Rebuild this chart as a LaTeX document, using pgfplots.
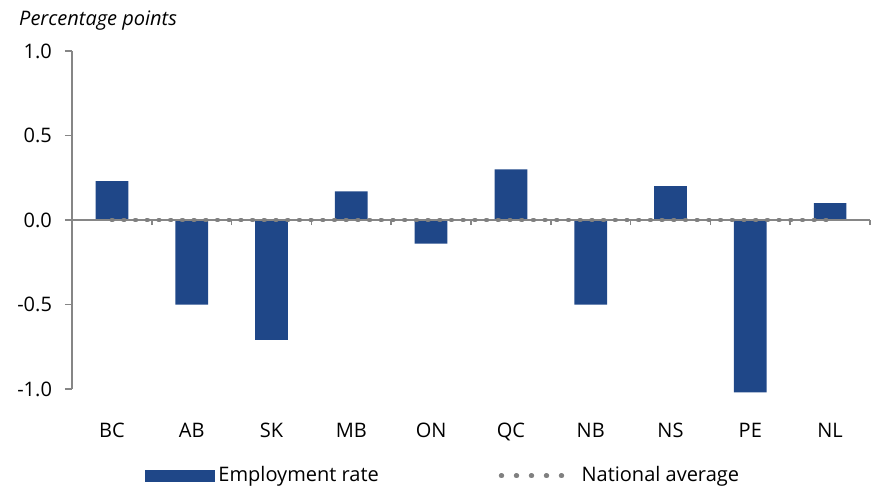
\documentclass[border=0pt]{standalone}
\usepackage{pgfplots}
\pgfplotsset{compat=1.18}
\usepackage{fontspec}
\setmainfont{Open Sans}
\definecolor{barblue}{RGB}{31,71,136}
\definecolor{axgray}{RGB}{134,134,134}
\definecolor{dotgray}{RGB}{128,128,128}

\begin{document}
\begin{tikzpicture}
\useasboundingbox (-36pt,-52pt) rectangle (400pt,194.5pt);
\pgfplotsset{
  base/.style={
    scale only axis, width=399pt, height=169pt,
    xmin=-0.5, xmax=9.5, ymin=-1, ymax=1,
    at={(0,0)}, anchor=south west, clip=false,
    font=\fontsize{10}{12}\selectfont,
  }
}
\begin{axis}[base,
  axis y line*=left, axis x line*=bottom,
  x axis line style={draw=none},
  y axis line style={axgray, line width=0.75pt},
  ytick={-1,-0.5,0,0.5,1},
  yticklabels={-1.0,-0.5,0.0,0.5,1.0},
  yticklabel style={xshift=-3pt},
  ytick style={axgray, line width=0.75pt},
  tick align=outside, major tick length=3.5pt,
  xtick={0,...,9},
  xticklabels={BC,AB,SK,MB,ON,QC,NB,NS,PE,NL},
  xtick style={draw=none},
  xticklabel style={yshift=-10pt},
  title={\itshape Percentage points},
  title style={at={(-0.075,1.055)}, anchor=west},
]
% employment rate, difference from national
\addplot[ybar, bar width=0.41, bar shift=0, fill=barblue, draw=none] coordinates {
  (0,0.23) (1,-0.50) (2,-0.71) (3,0.17) (4,-0.14)
  (5,0.30) (6,-0.50) (7,0.20) (8,-1.02) (9,0.10)
};
\end{axis}

\begin{axis}[base,
  axis x line*=middle, axis y line=none, ytick=\empty,
  x axis line style={axgray, line width=0.75pt},
  xtick={0.5,1.5,...,9.5}, xticklabels={},
  xtick style={axgray, line width=0.75pt},
  tick align=outside, major tick length=2.5pt,
  legend style={at={(0.466,-0.257)}, anchor=center, draw=none, fill=none,
    legend columns=2, font=\fontsize{10}{12}\selectfont,
    /tikz/every even column/.append style={column sep=58pt}},
]
\addlegendimage{legend image code/.code={\fill[barblue] (0pt,-2.75pt) rectangle (34.5pt,2.75pt);}}
\addlegendentry{Employment rate}
\addplot[color=dotgray, line width=2.4pt, line cap=round, dash pattern=on 0.3pt off 5.55pt,
  legend image code/.code={\draw[color=dotgray, line width=2.4pt, line cap=round,
    dash pattern=on 0.3pt off 7.2pt] (0pt,0pt) -- (37pt,0pt);}] coordinates {
  (0,0) (1,0) (2,0) (3,0) (4,0) (5,0) (6,0) (7,0) (8,0) (9,0)
};
\addlegendentry{National average}
\end{axis}
\end{tikzpicture}
\end{document}
